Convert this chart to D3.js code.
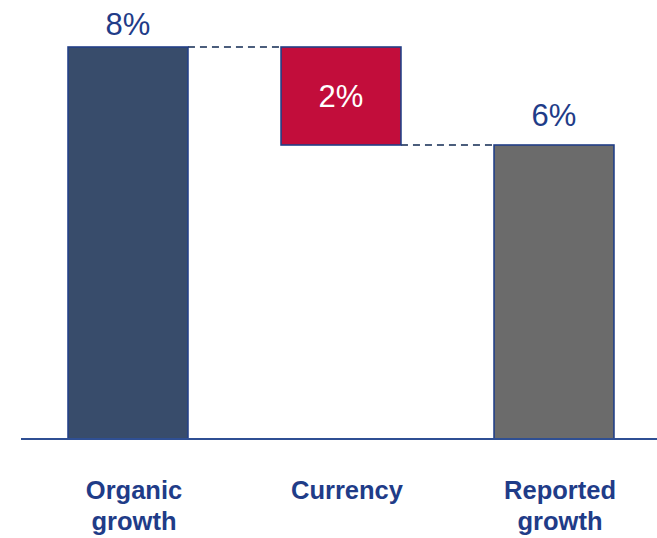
<!DOCTYPE html>
<html>
<head>
<meta charset="utf-8">
<script src="https://cdn.jsdelivr.net/npm/d3@7/dist/d3.min.js"></script>
<style>
  html, body { margin: 0; padding: 0; background: #fff; }
  svg { display: block; }
</style>
</head>
<body>
<svg id="chart" width="657" height="538"></svg>
<script>
// Growth bridge: organic growth less currency effect gives reported growth
const categories = ["Organic growth", "Currency", "Reported growth"];
const categoryLines = [["Organic", "growth"], ["Currency"], ["Reported", "growth"]];
const changes = [8, -2, 6];          // percentage points
const kinds = ["total", "delta", "total"];
const valueLabels = ["8%", "2%", "6%"];
const fills = ["#384c6b", "#c20d3b", "#6b6b6b"];

const W = 657, H = 538;
const svg = d3.select("#chart");

const x = d3.scaleBand()
  .domain(categories)
  .range([21.5, 660.5])
  .paddingInner(0.437)
  .paddingOuter(0.2185);

const y = d3.scaleLinear().domain([0, 8]).range([439, 47]);

// Waterfall segments: totals start from zero, deltas hang from the running level
let level = 0;
const segs = categories.map((c, i) => {
  let lo, hi;
  if (kinds[i] === "total") {
    lo = 0; hi = changes[i]; level = changes[i];
  } else {
    const next = level + changes[i];
    lo = Math.min(level, next); hi = Math.max(level, next); level = next;
  }
  return { cat: c, lo, hi, end: level, kind: kinds[i], label: valueLabels[i], fill: fills[i], lines: categoryLines[i] };
});

const textColor = "#1f3c88";
const edge = "#223f87";

// connector dashes between consecutive bars
const connectors = segs.slice(0, -1).map((s, i) => ({
  x1: x(s.cat) + x.bandwidth(),
  x2: x(segs[i + 1].cat),
  v: s.kind === "total" ? s.hi : s.end
}));
svg.selectAll("line.conn").data(connectors).join("line")
  .attr("class", "conn")
  .attr("x1", d => d.x1).attr("x2", d => d.x2)
  .attr("y1", d => y(d.v)).attr("y2", d => y(d.v))
  .attr("stroke", "#4b5d7c")
  .attr("stroke-width", 2)
  .attr("stroke-dasharray", "7,5");

// bars
svg.selectAll("rect.bar").data(segs).join("rect")
  .attr("class", "bar")
  .attr("x", d => x(d.cat))
  .attr("y", d => y(d.hi))
  .attr("width", x.bandwidth())
  .attr("height", d => y(d.lo) - y(d.hi))
  .attr("fill", d => d.fill)
  .attr("stroke", edge)
  .attr("stroke-width", 1.6);

// baseline
svg.append("line")
  .attr("x1", 21).attr("x2", W)
  .attr("y1", y(0)).attr("y2", y(0))
  .attr("stroke", "#2f4f93")
  .attr("stroke-width", 2);

// value labels: totals above the bar, deltas inside
svg.selectAll("text.val").data(segs).join("text")
  .attr("class", "val")
  .attr("x", d => x(d.cat) + x.bandwidth() / 2)
  .attr("y", d => d.kind === "total"
    ? Math.max(y(d.hi) - 19, 35)
    : (y(d.hi) + y(d.lo)) / 2 + 11)
  .attr("text-anchor", "middle")
  .attr("font-family", "Liberation Sans, Arial, sans-serif")
  .attr("font-size", 31)
  .attr("fill", d => d.kind === "total" ? textColor : "#ffffff")
  .text(d => d.label);

// category labels, set slightly right of the bar centres
const cat = svg.selectAll("text.cat").data(segs).join("text")
  .attr("class", "cat")
  .attr("text-anchor", "middle")
  .attr("font-family", "Liberation Sans, Arial, sans-serif")
  .attr("font-weight", "bold")
  .attr("font-size", 25.5)
  .attr("fill", textColor);
cat.selectAll("tspan").data(d => d.lines.map((t, j) => ({ t, j, cx: x(d.cat) + x.bandwidth() / 2 + 6 })))
  .join("tspan")
  .attr("x", d => d.cx)
  .attr("y", d => 499 + d.j * 31)
  .text(d => d.t);
</script>
</body>
</html>
